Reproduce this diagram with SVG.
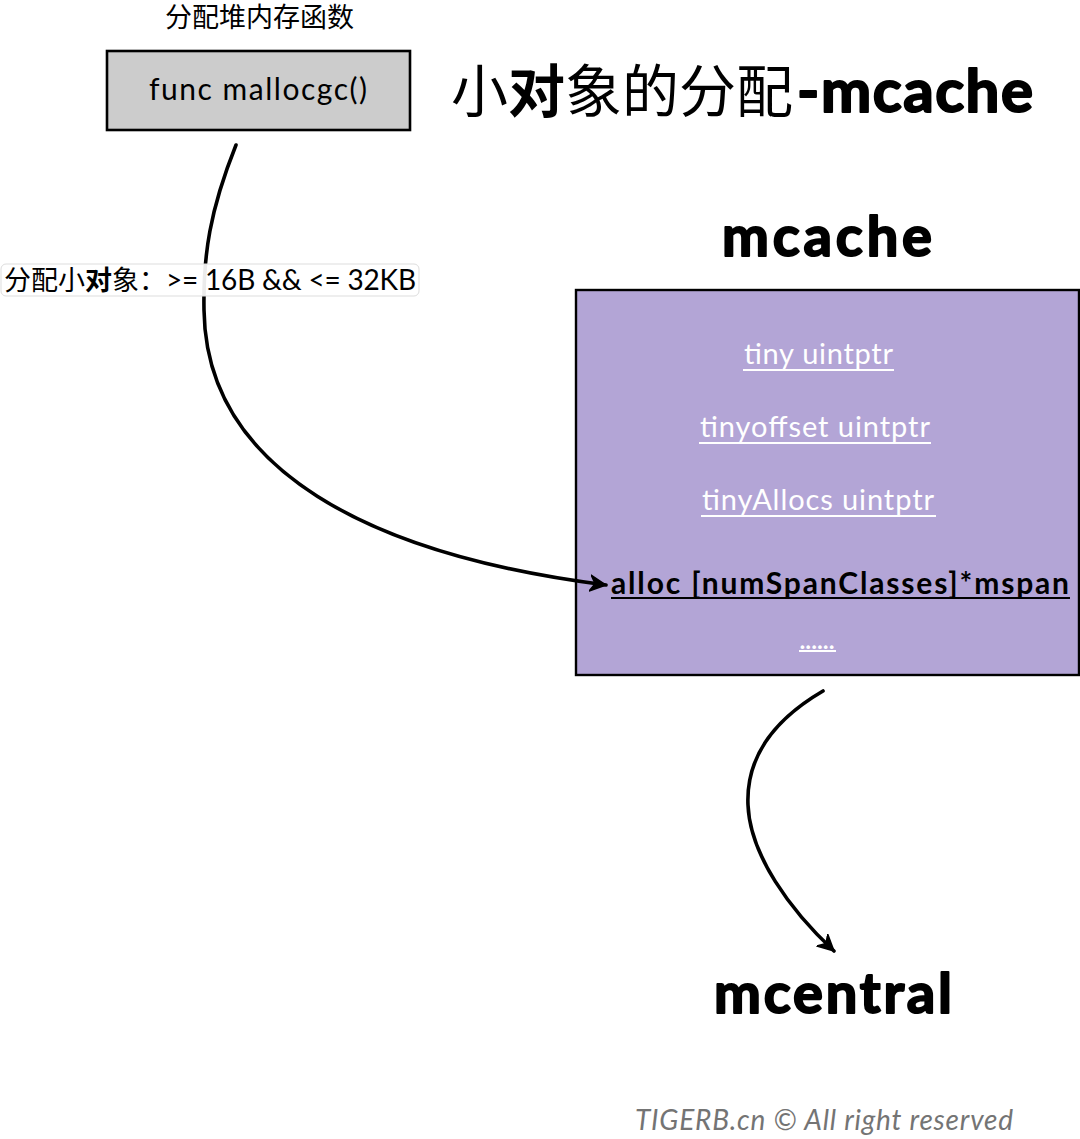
<svg xmlns="http://www.w3.org/2000/svg" width="1080" height="1139" viewBox="0 0 1080 1139">
<defs>
<marker id="arrow" markerUnits="userSpaceOnUse" markerWidth="24" markerHeight="24" refX="16" refY="9" orient="auto"><path d="M0,1 L16,9 L0,17 L5,9 Z" fill="#000" stroke="#000" stroke-width="1.5" stroke-linejoin="round"/></marker>
</defs>
<style>
text{font-family:"Lato","Noto Sans CJK SC",sans-serif;fill:#000}
.cjk{font-family:"Liberation Serif","Noto Sans CJK SC",sans-serif;font-weight:400}
.head{font-weight:700;stroke:#000;stroke-width:2;stroke-linejoin:round}
.field{font-size:29px;fill:#fff}
.u{stroke:#fff;stroke-width:2}
.conn{fill:none;stroke:#000;stroke-width:3.6;stroke-linecap:round}
</style>
<rect width="1080" height="1139" fill="#fff"/>
<g id="caption"><text class="cjk" x="165" y="27" font-size="27">分配堆内存函数</text></g>
<g id="mallocgc"><rect x="107" y="51" width="303" height="79" fill="#cccccc" stroke="#000" stroke-width="2.6"/><text x="149" y="100" font-size="30" textLength="218" lengthAdjust="spacing">func mallocgc()</text></g>
<g id="title"><text class="cjk" x="451" y="112" font-size="57">小<tspan font-weight="700">对</tspan>象的分配</text><text class="head" x="797" y="112" font-size="60" textLength="236" lengthAdjust="spacing">-mcache</text></g>
<g id="mcache-label"><text class="head" x="722" y="256" font-size="56" textLength="210" lengthAdjust="spacing">mcache</text></g>
<g id="mcache">
<rect x="576" y="290" width="503" height="385" fill="#b3a5d6" stroke="#000" stroke-width="2.4"/>
<text class="field" x="744" y="364" textLength="149" lengthAdjust="spacing">tiny uintptr</text><path class="u" d="M743,370H894"/>
<text class="field" x="700" y="437" textLength="230" lengthAdjust="spacing">tinyoffset uintptr</text><path class="u" d="M699,443H931"/>
<text class="field" x="702" y="510" textLength="232" lengthAdjust="spacing">tinyAllocs uintptr</text><path class="u" d="M701,516H936"/>
<text x="611" y="594" font-size="30" font-weight="700" textLength="458" lengthAdjust="spacing">alloc [numSpanClasses]*mspan</text><path d="M611,598H1070" stroke="#000" stroke-width="2"/>
<text class="field" x="799" y="649" font-size="22" textLength="36" lengthAdjust="spacing">......</text><path class="u" d="M799,651H836"/>
</g>
<g id="connectors">
<path class="conn" d="M236,145 C210,210 203,255 204,310 C206,470 370,555 606,585" marker-end="url(#arrow)"/>
<path class="conn" d="M823,691 C770,722 746,760 748,805 C750,855 790,910 834,951" marker-end="url(#arrow)"/>
</g>
<g id="edge-label"><rect x="1" y="264" width="418" height="32" rx="5" fill="#fff" fill-opacity="0.92" stroke="#ddd"/><text class="cjk" x="4" y="290" font-size="27">分配小<tspan font-weight="700">对</tspan>象：</text><text x="166" y="290" font-size="28" textLength="250" lengthAdjust="spacing">&gt;= 16B &amp;&amp; &lt;= 32KB</text></g>
<g id="mcentral"><text class="head" x="714" y="1013" font-size="56" textLength="238" lengthAdjust="spacing">mcentral</text></g>
<g id="footer"><text x="635" y="1130" font-size="28" font-style="italic" textLength="378" lengthAdjust="spacing" style="fill:#747474">TIGERB.cn © All right reserved</text></g>
</svg>
